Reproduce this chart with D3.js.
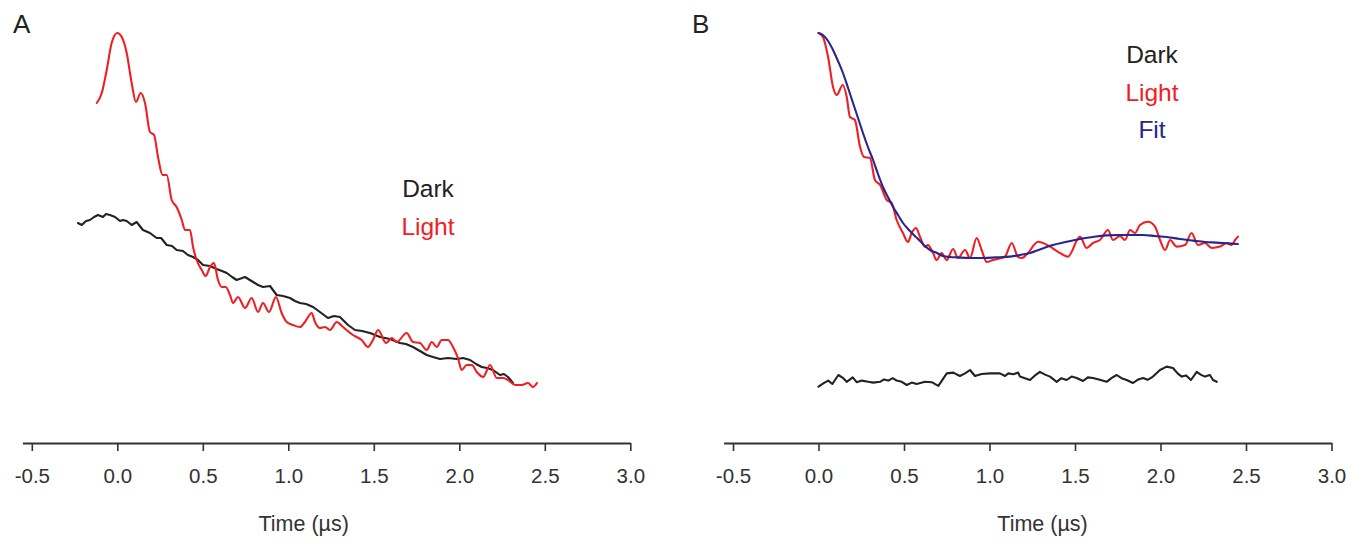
<!DOCTYPE html>
<html>
<head>
<meta charset="utf-8">
<script src="https://cdn.jsdelivr.net/npm/d3@7"></script>
<style>
  html, body { margin: 0; padding: 0; background: #fff; }
  svg { display: block; font-family: "Liberation Sans", Arial, sans-serif; }
</style>
</head>
<body>
<svg id="chart" width="1351" height="542"></svg>
<script>
// ---------- DATA (time in µs, signal in arbitrary units) ----------
const tickValues = [-0.5, 0.0, 0.5, 1.0, 1.5, 2.0, 2.5, 3.0];
const tickLabels = ["-0.5", "0.0", "0.5", "1.0", "1.5", "2.0", "2.5", "3.0"];
const axisTitle = "Time (\u00B5s)";
const panelLabels = ["A", "B"];
const legendA = ["Dark", "Light"];
const legendB = ["Dark", "Light", "Fit"];

// Panel A – Light
const lightA = [
 [-0.120,85.0],[-0.091,87.5],[-0.062,93.25],[-0.033,100],[0.0,102.5],[0.026,101.5],[0.055,97.5],
 [0.084,90],[0.109,85.25],[0.137,87.5],[0.162,85],[0.191,77.75],[0.215,77],[0.238,71.5],
 [0.265,67],[0.289,67],[0.318,60.75],[0.347,59],[0.377,55.75],[0.396,53.25],[0.425,53.25],
 [0.443,49],[0.464,45.75],[0.494,43.25],[0.517,41.75],[0.542,44],[0.565,45],[0.589,40.75],
 [0.611,39],[0.634,39],[0.659,37],[0.677,35],[0.706,36.5],[0.747,33.75],[0.786,36.25],
 [0.823,32.75],[0.852,35],[0.887,32.75],[0.928,36.5],[0.961,32.5],[0.991,30.25],[1.027,29.5],
 [1.068,29],[1.097,30.25],[1.137,32.5],[1.156,30.25],[1.185,28.75],[1.215,29],[1.244,28.25],
 [1.283,30.25],[1.320,29],[1.378,27],[1.429,25.75],[1.466,24],[1.495,25.75],[1.525,28.25],
 [1.572,25],[1.605,26.25],[1.634,25.25],[1.692,27.5],[1.729,25.25],[1.770,25],[1.809,23.25],
 [1.839,25.25],[1.868,24],[1.897,25.75],[1.934,25.75],[1.963,24],[1.992,21.25],[2.014,18.25],
 [2.043,19.5],[2.073,19.5],[2.102,17.75],[2.139,16.5],[2.180,19.5],[2.219,16.25],[2.256,16.25],
 [2.285,15.75],[2.326,14.5],[2.365,14.5],[2.402,15],[2.431,14],[2.454,15]
];

// Panel A – Dark
const darkA = [
 [-0.230,55],[-0.208,54.5],[-0.183,55.5],[-0.160,55.75],[-0.136,56.5],[-0.113,57],[-0.084,56.5],
 [-0.066,57.25],[-0.043,57],[-0.013,56.5],[0.016,55.5],[0.033,55.75],[0.055,55.5],[0.084,54.5],
 [0.113,55.25],[0.150,53.25],[0.191,52.5],[0.230,51.25],[0.256,51.25],[0.289,49.5],[0.320,49.25],
 [0.347,48.25],[0.384,48],[0.413,47],[0.443,46.5],[0.472,45.75],[0.501,44.5],[0.542,44.25],
 [0.581,43.5],[0.612,43],[0.640,42.5],[0.671,41.5],[0.698,40.75],[0.747,41.5],[0.794,40.25],
 [0.823,39.5],[0.852,39],[0.893,39.25],[0.932,37],[0.969,36.75],[1.010,36.25],[1.039,35.5],
 [1.068,35],[1.104,34.75],[1.145,34],[1.185,32.75],[1.232,31.25],[1.267,31.75],[1.302,31.5],
 [1.349,29.5],[1.390,28.25],[1.431,28],[1.478,27.5],[1.536,26.5],[1.595,26],[1.653,25],
 [1.688,24.75],[1.729,24],[1.770,23],[1.809,22],[1.846,21.5],[1.887,21],[1.934,21.25],
 [1.985,21],[2.022,21.25],[2.063,20.75],[2.098,19.75],[2.131,19],[2.162,18.75],[2.197,18.25],
 [2.238,17],[2.261,17.25],[2.285,16.5],[2.314,15]
];

// Panel B – Fit
const fitB = [
 [0.0,102.5],[0.026,102],[0.056,100.5],[0.085,98.25],[0.114,95.5],[0.143,92.5],[0.173,88.75],
 [0.202,85],[0.231,81.25],[0.260,77.5],[0.289,74],[0.319,70.75],[0.348,67.25],[0.377,64],
 [0.406,61.5],[0.436,59],[0.465,57],[0.494,55],[0.535,53],[0.576,51.25],[0.611,49.75],
 [0.652,48.25],[0.693,47.5],[0.728,46.75],[0.769,46.5],[0.810,46.4],[0.886,46.25],[0.962,46.25],
 [1.038,46.4],[1.120,46.6],[1.178,47],[1.237,47.5],[1.295,48.4],[1.371,49.5],[1.451,50.3],
 [1.529,51],[1.605,51.5],[1.681,51.9],[1.763,52],[1.833,52],[1.898,52],[1.968,51.75],
 [2.036,51.5],[2.114,51],[2.190,50.6],[2.260,50.25],[2.329,50.1],[2.395,49.9],[2.453,49.75]
];

// Panel B – Light
const lightB = [
 [0.0,102.5],[0.026,101.5],[0.056,96.5],[0.085,89],[0.106,87],[0.142,89.5],[0.165,86.5],
 [0.184,81.5],[0.213,80.75],[0.243,74],[0.266,71.5],[0.301,71.25],[0.330,65.75],[0.360,64.5],
 [0.399,60.75],[0.428,60],[0.457,55.75],[0.494,52.5],[0.523,50.25],[0.545,52.5],[0.570,53.75],
 [0.594,51.5],[0.623,49],[0.640,49.5],[0.670,47.5],[0.691,45.75],[0.720,47.5],[0.750,45.75],
 [0.787,48.5],[0.816,46.25],[0.857,48.25],[0.886,46.25],[0.925,51.25],[0.954,48.25],[0.984,45.25],
 [1.020,45.75],[1.071,46.25],[1.091,46.6],[1.130,50],[1.167,46.5],[1.190,46.25],[1.225,47.5],
 [1.284,50.3],[1.354,49.1],[1.401,47.8],[1.459,46.6],[1.529,51.6],[1.568,48.75],[1.605,50],
 [1.646,50.75],[1.693,53.25],[1.722,50.75],[1.763,51.75],[1.792,50.75],[1.822,53.25],[1.851,52.5],
 [1.880,54.5],[1.927,55.3],[1.968,54.1],[1.997,50.75],[2.027,48.25],[2.056,50.75],[2.095,49.1],
 [2.143,49.5],[2.182,52.5],[2.219,49.5],[2.260,50],[2.299,48.75],[2.348,49.1],[2.387,50],
 [2.416,49.5],[2.436,50.75],[2.453,51.6]
];

// Panel B – Dark
const darkB = [
 [0.0,14.1],[0.028,14.9],[0.057,15.6],[0.081,14.75],[0.116,17],[0.145,16.2],[0.165,15.3],
 [0.200,16.4],[0.223,15.2],[0.253,15.6],[0.291,15.3],[0.320,15.1],[0.360,15.3],[0.383,15.9],
 [0.408,15.6],[0.434,16.2],[0.457,15.6],[0.487,15.3],[0.516,14.5],[0.545,15.1],[0.574,14.75],
 [0.623,15.3],[0.662,15.2],[0.701,14.3],[0.750,17.4],[0.788,17.6],[0.827,16.75],[0.857,17.4],
 [0.886,18.25],[0.915,16.75],[0.954,17.25],[1.003,17.4],[1.061,17.4],[1.091,16.75],[1.110,17.4],
 [1.139,17.2],[1.168,17.6],[1.178,16.6],[1.207,16.2],[1.237,15.75],[1.266,16.9],[1.295,17.8],
 [1.325,17.1],[1.354,16.6],[1.393,15.3],[1.420,16.2],[1.451,15.75],[1.480,16.6],[1.510,16.25],
 [1.547,15.5],[1.575,16.4],[1.605,16.25],[1.645,15.8],[1.685,15.3],[1.715,16.3],[1.744,17],
 [1.772,16.2],[1.802,15.75],[1.839,15],[1.870,15.9],[1.898,16.25],[1.925,15.8],[1.956,16.6],
 [1.997,18.25],[2.036,19.1],[2.073,18.75],[2.100,17.4],[2.124,16.6],[2.150,16.9],[2.178,15.75],
 [2.212,17.8],[2.235,17.1],[2.260,16.6],[2.289,17],[2.307,15.75],[2.329,15.3]
];

// ---------- DRAWING ----------
const svg = d3.select("#chart");
const colors = { dark: "#222222", light: "#ee2024", fit: "#27258f", axis: "#333333" };
const yScale = d3.scaleLinear().domain([0, 100]).range([443, 43]);
const axisY = 443;

const panels = [
  { label: panelLabels[0], range: [22.4, 630.3], labelX: 13,
    series: [{ data: darkA, color: colors.dark, curve: d3.curveLinear },
             { data: lightA, color: colors.light, curve: d3.curveMonotoneX }],
    legend: legendA, legendColors: [colors.dark, colors.light], legendX: 428, legendY: 197, titleT: 1.09 },
  { label: panelLabels[1], range: [723.6, 1331.5], labelX: 692,
    series: [{ data: darkB, color: colors.dark, curve: d3.curveLinear },
             { data: lightB, color: colors.light, curve: d3.curveMonotoneX },
             { data: fitB, color: colors.fit, curve: d3.curveMonotoneX }],
    legend: legendB, legendColors: [colors.dark, colors.light, colors.fit], legendX: 1152, legendY: 63, titleT: 1.31 }
];

panels.forEach(p => {
  const x = d3.scaleLinear().domain([-0.555, 3.0]).range(p.range);
  const g = svg.append("g");

  const axis = d3.axisBottom(x)
    .tickValues(tickValues)
    .tickFormat((d, i) => tickLabels[i])
    .tickSizeInner(8).tickSizeOuter(0).tickPadding(17);
  const ag = g.append("g").attr("transform", `translate(0,${axisY})`).call(axis);
  ag.select(".domain").attr("stroke", colors.axis).attr("stroke-width", 2.2);
  ag.selectAll(".tick line").attr("stroke", colors.axis).attr("stroke-width", 1.6);
  ag.selectAll(".tick text").attr("fill", "#333").style("font-size", "20.5px")
    .style("font-family", "'Liberation Sans', Arial, sans-serif");

  g.append("text").attr("x", x(p.titleT)).attr("y", 531).attr("text-anchor", "middle")
    .attr("fill", "#333").style("font-size", "21.5px").text(axisTitle);

  g.append("text").attr("x", p.labelX).attr("y", 33).attr("fill", "#222")
    .style("font-size", "26px").text(p.label);

  const line = d3.line().x(d => x(d[0])).y(d => yScale(d[1]));
  p.series.forEach(s => {
    g.append("path").datum(s.data)
      .attr("d", line.curve(s.curve))
      .attr("fill", "none").attr("stroke", s.color).attr("stroke-width", 2.1)
      .attr("stroke-linejoin", "round").attr("stroke-linecap", "round");
  });

  p.legend.forEach((name, i) => {
    g.append("text").attr("x", p.legendX).attr("y", p.legendY + i * 37.5)
      .attr("text-anchor", "middle").attr("fill", p.legendColors[i])
      .style("font-size", "24.5px").text(name);
  });
});
</script>
</body>
</html>
